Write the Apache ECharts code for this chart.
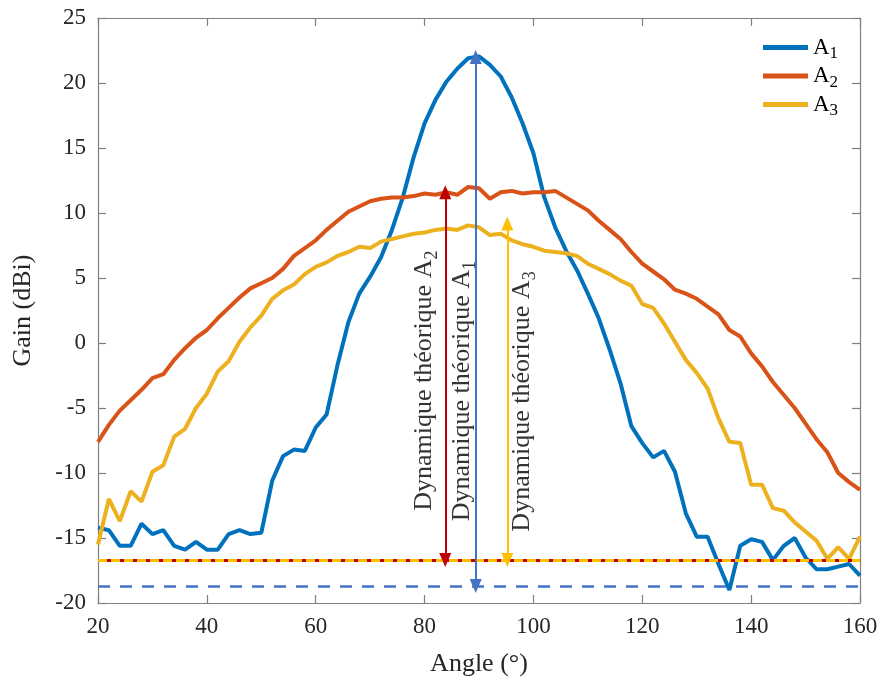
<!DOCTYPE html>
<html><head><meta charset="utf-8">
<script src="https://cdn.jsdelivr.net/npm/echarts@6/dist/echarts.min.js"></script>
<style>html,body{margin:0;padding:0;background:#fff}#c{width:885px;height:686px}</style>
</head><body><div id="c"></div>
<script>
const angles = [20,22,24,26,28,30,32,34,36,38,40,42,44,46,48,50,52,54,56,58,60,62,64,66,68,70,72,74,76,78,80,82,84,86,88,90,92,94,96,98,100,102,104,106,108,110,112,114,116,118,120,122,124,126,128,130,132,134,136,138,140,142,144,146,148,150,152,154,156,158,160];
const gainA1 = [-14.2,-14.4,-15.6,-15.6,-13.9,-14.7,-14.4,-15.6,-15.9,-15.3,-15.9,-15.9,-14.7,-14.4,-14.7,-14.6,-10.6,-8.7,-8.2,-8.3,-6.5,-5.5,-1.7,1.6,3.8,5.1,6.6,8.7,11.2,14.3,16.9,18.7,20.1,21.1,21.9,22.05,21.4,20.5,18.9,16.9,14.6,11.2,8.9,7.1,5.6,3.8,1.9,-0.5,-3.1,-6.4,-7.7,-8.8,-8.3,-9.9,-13.1,-14.9,-14.9,-17.0,-19.0,-15.6,-15.1,-15.3,-16.7,-15.6,-15.0,-16.5,-17.4,-17.4,-17.2,-17.0,-17.9];
const gainA2 = [-7.6,-6.3,-5.2,-4.4,-3.6,-2.7,-2.4,-1.3,-0.4,0.4,1.0,1.9,2.7,3.5,4.2,4.6,5.0,5.7,6.7,7.3,7.9,8.7,9.4,10.1,10.5,10.9,11.1,11.2,11.2,11.3,11.5,11.4,11.6,11.4,12.0,11.9,11.1,11.6,11.7,11.5,11.6,11.6,11.7,11.2,10.7,10.2,9.4,8.7,8.0,7.0,6.1,5.5,4.9,4.1,3.8,3.4,2.8,2.2,1.0,0.5,-0.8,-1.8,-3.0,-4.0,-5.0,-6.2,-7.4,-8.4,-10.0,-10.7,-11.3];
const gainA3 = [-15.5,-12.0,-13.7,-11.4,-12.2,-9.9,-9.4,-7.2,-6.6,-5.0,-3.9,-2.2,-1.4,0.1,1.2,2.1,3.4,4.05,4.5,5.3,5.85,6.2,6.7,7.0,7.4,7.3,7.8,8.0,8.2,8.4,8.5,8.7,8.8,8.7,9.05,8.9,8.3,8.4,7.9,7.6,7.4,7.1,7.0,6.9,6.7,6.1,5.7,5.3,4.8,4.4,3.0,2.7,1.5,0.1,-1.3,-2.3,-3.5,-5.8,-7.6,-7.7,-10.9,-10.9,-12.7,-12.9,-13.8,-14.5,-15.2,-16.6,-15.7,-16.6,-14.9];
const seriesNames = ['A1','A2','A3'];
const xTicks = [20,40,60,80,100,120,140,160];
const yTicks = [-20,-15,-10,-5,0,5,10,15,20,25];
// reference levels and arrows (angle, bottom, top)
const floorA2A3 = -16.7;
const floorA1 = -18.7;
const arrowA2 = [83.8, -16.7, 11.6];
const arrowA1 = [89.4, -18.7, 22.0];
const arrowA3 = [95.2, -16.7, 9.2];
const textPosA2 = [80.0, -2.9];
const textPosA1 = [87.0, -3.7];
const textPosA3 = [98.0, -4.5];

const serif = 'Liberation Serif';
const colors = ['#0072BD','#D95319','#EDB120'];
const pairs = arr => angles.map((a,i)=>[a,arr[i]]);
const sub = {
  a:{fontFamily:serif,fontSize:23,color:'#000',lineHeight:30},
  s:{fontFamily:serif,fontSize:17,color:'#000',lineHeight:14,verticalAlign:'bottom'}
};
const annRich = {
  a:{fontFamily:serif,fontSize:26,color:'#000',lineHeight:34},
  s:{fontFamily:serif,fontSize:18,color:'#000',lineHeight:16,verticalAlign:'bottom'}
};
function arrowLine(arr,color){
  return [{coord:[arr[0],arr[1]],lineStyle:{color:color,width:2,type:'solid'}},{coord:[arr[0],arr[2]]}];
}
function textSeries(pos,label){
  return {type:'scatter',data:[pos],symbolSize:0,silent:true,z:5,
    label:{show:true,position:'inside',rotate:90,formatter:label,rich:annRich}};
}
const axisLineStyle = {color:'#7f7f7f',width:1.2};
const option = {
  animation:false,
  grid:{left:98,right:25,top:18,bottom:83},
  legend:{orient:'vertical',left:758,top:31,itemWidth:45,itemHeight:5,itemGap:2,icon:'rect',
    data:seriesNames,
    formatter:n=>'{a|A}{s|'+n.slice(1)+'}',
    textStyle:{rich:sub}},
  xAxis:[
    {type:'value',min:20,max:160,interval:20,
     name:'Angle (°)',nameLocation:'middle',nameGap:48,
     nameTextStyle:{fontFamily:serif,fontSize:26,color:'#262626'},
     axisLine:{onZero:false,lineStyle:axisLineStyle},axisTick:{inside:true,length:8,lineStyle:axisLineStyle},
     axisLabel:{fontFamily:serif,fontSize:23,color:'#262626',margin:12},splitLine:{show:false}},
    {type:'value',min:20,max:160,interval:20,position:'top',
     axisLine:{show:true,onZero:false,lineStyle:axisLineStyle},axisTick:{inside:true,length:8,lineStyle:axisLineStyle},
     axisLabel:{show:false},splitLine:{show:false}}
  ],
  yAxis:[
    {type:'value',min:-20,max:25,interval:5,
     name:'Gain (dBi)',nameLocation:'middle',nameGap:62,
     nameTextStyle:{fontFamily:serif,fontSize:26,color:'#262626'},
     axisLine:{show:true,onZero:false,lineStyle:axisLineStyle},axisTick:{show:true,inside:true,length:8,lineStyle:axisLineStyle},
     axisLabel:{fontFamily:serif,fontSize:23,color:'#262626',margin:12},splitLine:{show:false}},
    {type:'value',min:-20,max:25,interval:5,position:'right',
     axisLine:{show:true,onZero:false,lineStyle:axisLineStyle},axisTick:{show:true,inside:true,length:8,lineStyle:axisLineStyle},
     axisLabel:{show:false},splitLine:{show:false}}
  ],
  series:[
    {name:'A1',type:'line',data:pairs(gainA1),symbol:'none',lineStyle:{color:colors[0],width:4},itemStyle:{color:colors[0]},z:3},
    {name:'A2',type:'line',data:pairs(gainA2),symbol:'none',lineStyle:{color:colors[1],width:4},itemStyle:{color:colors[1]},z:3},
    {name:'A3',type:'line',data:pairs(gainA3),symbol:'none',lineStyle:{color:colors[2],width:4},itemStyle:{color:colors[2]},z:3},
    {type:'line',data:[],silent:true,z:4,
     markLine:{silent:true,symbol:'none',label:{show:false},animation:false,
       data:[
         {yAxis:floorA1,lineStyle:{color:'#4472C4',width:2.5,type:[12,10]}},
         {yAxis:floorA2A3,lineStyle:{color:'#FFC000',width:3,type:[9,4]}}
       ]}},
    {type:'line',data:[],silent:true,z:4,
     markLine:{silent:true,symbol:'none',label:{show:false},animation:false,
       data:[{yAxis:floorA2A3,lineStyle:{color:'#C00000',width:3,type:[4,9],dashOffset:-9}}]}},
    {type:'line',data:[],silent:true,z:6,
     markLine:{silent:true,symbol:['triangle','triangle'],symbolSize:[12,14],label:{show:false},animation:false,
       data:[arrowLine(arrowA2,'#C00000'),arrowLine(arrowA1,'#4472C4'),arrowLine(arrowA3,'#FFC000')]}},
    textSeries(textPosA2,'{a|Dynamique théorique A}{s|2}'),
    textSeries(textPosA1,'{a|Dynamique théorique A}{s|1}'),
    textSeries(textPosA3,'{a|Dynamique théorique A}{s|3}')
  ]
};
const chart = echarts.init(document.getElementById('c'),null,{renderer:'canvas'});
chart.setOption(option);
</script></body></html>
